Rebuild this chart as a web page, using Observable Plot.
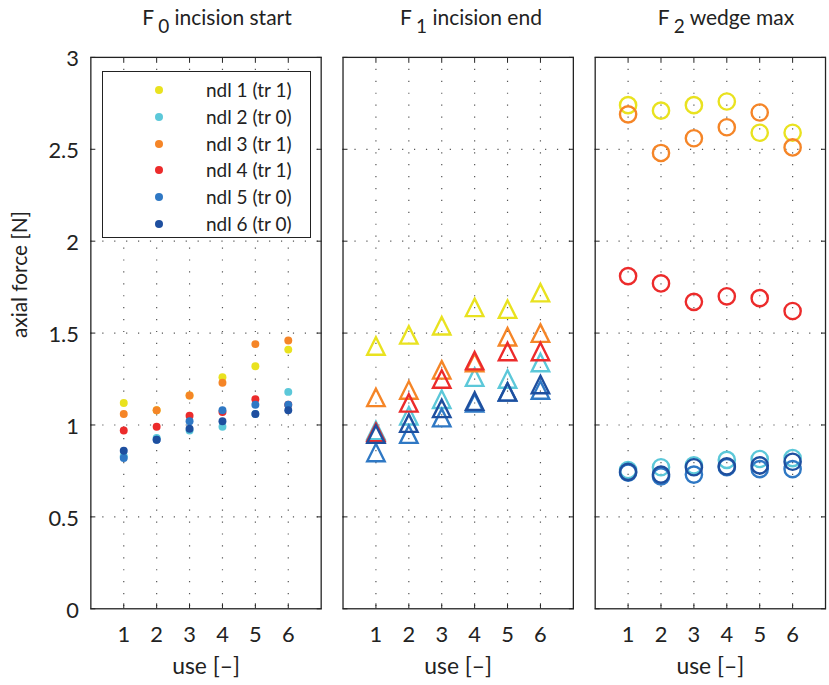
<!DOCTYPE html>
<html><head><meta charset="utf-8">
<script src="https://cdn.jsdelivr.net/npm/d3@7"></script>
<script src="https://cdn.jsdelivr.net/npm/@observablehq/plot@0.6"></script>
<style>
body{margin:0;overflow:hidden;background:#fff;font-family:Lato,sans-serif;color:#222;}
#wrap{position:relative;width:829px;height:685px;overflow:hidden;}
#wrap svg{position:absolute;left:0;top:0;}
.title{position:absolute;top:4px;font-size:21px;white-space:nowrap;transform:translateX(-50%);line-height:26px;}
.title .sub{position:relative;top:8px;margin-left:4px;margin-right:0px;font-size:19px;}
#legend{position:absolute;left:102px;top:71px;width:209px;height:167px;border:1px solid #222;background:#fff;box-sizing:border-box;}
.lrow{position:absolute;left:0;height:20px;font-size:19px;line-height:20px;white-space:nowrap;}
.lrow .dot{position:absolute;left:52px;top:6px;width:8px;height:8px;border-radius:50%;}
.lrow .lab{position:absolute;left:103px;top:0px;}
</style></head>
<body><div id="wrap"></div>
<script>
const uses = [1, 2, 3, 4, 5, 6];
const needles = ["ndl 1 (tr 1)", "ndl 2 (tr 0)", "ndl 3 (tr 1)", "ndl 4 (tr 1)", "ndl 5 (tr 0)", "ndl 6 (tr 0)"];
const colors = ["#e9e21f", "#5cc8d9", "#f58527", "#ec2b2b", "#2f78c4", "#1e4f9f"];
const panels = ["F0", "F1", "F2"];
const panelTitles = [["F", "0", " incision start"], ["F", "1", " incision end"], ["F", "2", " wedge max"]];
const yTicks = [0, 0.5, 1, 1.5, 2, 2.5, 3];
const xLabel = "use [–]";
const yLabel = "axial force [N]";

// F0 incision start (filled dots), per needle, uses 1..6
const f0_ndl1 = [1.12, 1.08, 1.16, 1.26, 1.32, 1.41];
const f0_ndl2 = [0.83, 0.93, 0.97, 0.99, 1.06, 1.18];
const f0_ndl3 = [1.06, 1.08, 1.16, 1.23, 1.44, 1.46];
const f0_ndl4 = [0.97, 0.99, 1.05, 1.07, 1.14, 1.11];
const f0_ndl5 = [0.82, 0.92, 1.02, 1.08, 1.11, 1.11];
const f0_ndl6 = [0.86, 0.92, 0.98, 1.02, 1.06, 1.08];
// F1 incision end (triangles)
const f1_ndl1 = [1.43, 1.49, 1.54, 1.64, 1.63, 1.72];
const f1_ndl2 = [0.97, 1.05, 1.14, 1.26, 1.25, 1.34];
const f1_ndl3 = [1.15, 1.19, 1.30, 1.34, 1.48, 1.50];
const f1_ndl4 = [0.96, 1.12, 1.25, 1.35, 1.40, 1.40];
const f1_ndl5 = [0.85, 0.95, 1.04, 1.12, 1.18, 1.19];
const f1_ndl6 = [0.95, 1.01, 1.09, 1.13, 1.18, 1.22];
// F2 wedge max (circles)
const f2_ndl1 = [2.74, 2.71, 2.74, 2.76, 2.59, 2.59];
const f2_ndl2 = [0.755, 0.77, 0.78, 0.81, 0.815, 0.82];
const f2_ndl3 = [2.69, 2.48, 2.56, 2.62, 2.70, 2.51];
const f2_ndl4 = [1.81, 1.77, 1.67, 1.70, 1.69, 1.62];
const f2_ndl5 = [0.74, 0.72, 0.73, 0.77, 0.76, 0.76];
const f2_ndl6 = [0.745, 0.73, 0.77, 0.775, 0.78, 0.80];

const values = [
  [f0_ndl1, f0_ndl2, f0_ndl3, f0_ndl4, f0_ndl5, f0_ndl6],
  [f1_ndl1, f1_ndl2, f1_ndl3, f1_ndl4, f1_ndl5, f1_ndl6],
  [f2_ndl1, f2_ndl2, f2_ndl3, f2_ndl4, f2_ndl5, f2_ndl6]
];
const rows = [];
panels.forEach((p, pi) => needles.forEach((n, ni) => uses.forEach((u, ui) =>
  rows.push({panel: p, ndl: n, use: u, value: values[pi][ni][ui]}))));

// MATLAB-like upward triangle (bbox centred)
const triUp = {draw(ctx, size) {
  const s = Math.sqrt(size / Math.PI);
  ctx.moveTo(0, -s); ctx.lineTo(s, s); ctx.lineTo(-s, s); ctx.closePath();
}};

const fontFam = 'Lato, sans-serif';
const chart = Plot.plot({
  width: 835, height: 685,
  marginLeft: 90, marginRight: 3, marginTop: 57.3, marginBottom: 72.3,
  style: {fontFamily: fontFam, fontSize: "22px", color: "#222", background: "transparent", overflow: "visible"},
  fx: {domain: panels, paddingInner: 0.086, paddingOuter: 0, axis: null, label: null},
  x: {domain: [0, 7]},
  y: {domain: [0, 3]},
  color: {domain: needles, range: colors},
  marks: [
    Plot.gridX(uses, {stroke: "#555", strokeOpacity: 1, strokeWidth: 1.2, strokeDasharray: "1.2,10.8"}),
    Plot.gridY(yTicks.slice(1, -1), {stroke: "#555", strokeOpacity: 1, strokeWidth: 1.2, strokeDasharray: "1.2,10.8"}),
    // inward ticks
    Plot.axisX(uses, {anchor: "bottom", tickSize: 5, dy: -5, tickFormat: () => "", label: null, stroke: "#222"}),
    Plot.axisX(uses, {anchor: "top", tickSize: 5, dy: 5, tickFormat: () => "", label: null, stroke: "#222", facetAnchor: null}),
    Plot.axisY(yTicks, {anchor: "left", tickSize: 5, dx: 5, tickFormat: () => "", label: null, stroke: "#222", facetAnchor: null}),
    Plot.axisY(yTicks, {anchor: "right", tickSize: 5, dx: -5, tickFormat: () => "", label: null, stroke: "#222", facetAnchor: null}),
    // labels
    Plot.axisX(uses, {anchor: "bottom", tickSize: 0, tickPadding: 18, tickFormat: d => String(d), label: null, fontSize: 22}),
    Plot.axisY(yTicks, {anchor: "left", tickSize: 0, tickPadding: 12, dy: 2, tickFormat: d => String(d), label: null, fontSize: 22}),
    Plot.text([yLabel], {fx: () => "F0", frameAnchor: "left", rotate: -90, dx: -71, dy: 5, text: d => d, fontSize: 21, lineAnchor: "middle"}),
    Plot.text(panels, {fx: d => d, frameAnchor: "bottom", dy: 58, text: () => xLabel, fontSize: 23, lineAnchor: "middle"}),
    Plot.frame({stroke: "#222", strokeWidth: 1.3}),
    Plot.dot(rows.filter(d => d.panel === "F0"), {fx: "panel", x: "use", y: "value", fill: "ndl", r: 4}),
    Plot.dot(rows.filter(d => d.panel === "F1"), {fx: "panel", x: "use", y: "value", stroke: "ndl", symbol: () => triUp, r: 8.8, strokeWidth: 2.4, strokeLinejoin: "miter"}),
    Plot.dot(rows.filter(d => d.panel === "F2"), {fx: "panel", x: "use", y: "value", stroke: "ndl", r: 8.2, strokeWidth: 2.4})
  ]
});
const wrap = document.getElementById("wrap");
wrap.appendChild(chart);

// titles
const centers = [217, 471, 726];
panelTitles.forEach((t, i) => {
  const el = document.createElement("div");
  el.className = "title";
  el.style.left = centers[i] + "px";
  el.append(t[0]);
  const s = document.createElement("span"); s.className = "sub"; s.textContent = t[1];
  el.append(s);
  el.append(t[2]);
  wrap.appendChild(el);
});

// legend
const leg = document.createElement("div");
leg.id = "legend";
needles.forEach((n, i) => {
  const r = document.createElement("div");
  r.className = "lrow";
  r.style.top = (8 + i * 26.8) + "px";
  const d = document.createElement("span"); d.className = "dot"; d.style.background = colors[i];
  const l = document.createElement("span"); l.className = "lab"; l.textContent = n;
  r.append(d, l);
  leg.appendChild(r);
});
wrap.appendChild(leg);
</script></body></html>
